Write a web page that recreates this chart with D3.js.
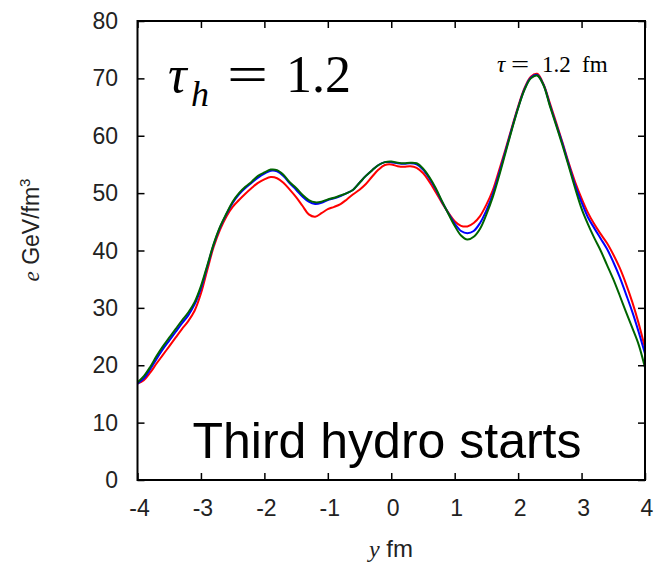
<!DOCTYPE html>
<html>
<head>
<meta charset="utf-8">
<script src="https://cdn.jsdelivr.net/npm/d3@7/dist/d3.min.js"></script>
<style>
html,body{margin:0;padding:0;background:#fff;}
svg{display:block;}
</style>
</head>
<body>
<svg id="chart" width="662" height="564"></svg>
<script>
// ---- data ----
const yPositions = [-4.0,-3.9,-3.8,-3.7,-3.6,-3.5,-3.4,-3.3,-3.2,-3.1,-3.0,-2.9,-2.8,-2.7,-2.6,-2.5,-2.4,-2.3,-2.2,-2.1,-2.0,-1.9,-1.8,-1.7,-1.6,-1.5,-1.4,-1.3,-1.2,-1.1,-1.0,-0.9,-0.8,-0.7,-0.6,-0.5,-0.4,-0.3,-0.2,-0.1,0.0,0.1,0.2,0.3,0.4,0.5,0.6,0.7,0.8,0.9,1.0,1.1,1.2,1.3,1.4,1.5,1.6,1.7,1.8,1.9,2.0,2.1,2.2,2.3,2.4,2.5,2.6,2.7,2.8,2.9,3.0,3.1,3.2,3.3,3.4,3.5,3.6,3.7,3.8,3.9,4.0];
const redValues = [16.8,17.4,18.7,20.3,21.8,23.3,24.8,26.3,27.7,29.5,32.5,36.6,40.6,43.6,45.9,47.6,48.8,49.9,50.9,51.8,52.4,52.8,52.6,51.8,50.6,49.3,47.8,46.3,45.9,46.5,47.2,47.6,48.1,48.9,49.8,50.6,51.6,52.9,54.1,54.9,55.0,54.7,54.6,54.7,54.4,53.5,52.0,50.2,48.3,46.6,45.1,44.3,44.2,44.8,46.0,48.0,50.5,54.0,57.6,61.4,65.1,68.3,70.3,70.8,69.0,65.7,62.3,58.8,55.2,51.9,49.1,46.6,44.6,42.9,41.3,39.3,37.0,34.2,31.0,27.3,23.0];
const blueValues = [16.8,17.7,19.3,21.1,22.8,24.3,25.8,27.3,28.7,30.6,33.4,37.2,41.0,44.0,46.3,48.3,49.8,50.9,51.8,52.7,53.4,53.9,53.8,53.0,51.7,50.6,49.4,48.5,48.1,48.3,48.8,49.1,49.5,50.0,50.6,51.8,53.0,54.0,54.9,55.4,55.4,55.2,55.1,55.2,55.0,54.1,52.6,50.7,48.5,46.5,44.7,43.4,43.0,43.4,44.8,47.0,49.8,53.4,57.3,61.2,64.9,68.1,70.1,70.6,68.9,65.4,62.0,58.6,54.9,51.3,48.4,45.8,43.9,42.1,40.3,38.0,35.4,32.4,29.3,25.8,22.0];
const greenValues = [17.0,18.1,19.7,21.6,23.3,24.8,26.3,27.8,29.2,31.0,33.8,37.4,41.1,44.1,46.4,48.5,50.0,51.1,52.0,53.0,53.6,54.1,54.0,53.2,51.9,50.9,49.7,48.8,48.4,48.5,48.9,49.2,49.6,50.0,50.6,51.8,53.0,54.0,54.9,55.4,55.5,55.3,55.2,55.3,55.2,54.3,52.8,50.9,48.6,46.4,44.3,42.6,41.9,42.4,43.8,46.3,49.3,53.0,57.0,61.0,64.8,68.0,70.0,70.5,68.8,65.2,61.8,58.3,54.6,50.8,47.3,44.6,42.2,40.0,37.5,35.0,32.2,29.3,26.5,23.6,19.6];
const xTicks = [-4,-3,-2,-1,0,1,2,3,4];
const yTicks = [0,10,20,30,40,50,60,70,80];
const seriesColors = ["#ff0000","#0000ff","#006400"];

// ---- layout ----
const svg = d3.select("#chart");
const L = 137.5, R = 645, T = 21, B = 480;
const x = d3.scaleLinear().domain([-4,4]).range([L,R]);
const y = d3.scaleLinear().domain([0,80]).range([B,T]);
const sans = "'Liberation Sans', Arial, Helvetica, sans-serif";
const serif = "'Liberation Serif', 'DejaVu Serif', serif";

svg.append("defs").append("clipPath").attr("id","clip")
  .append("rect").attr("x",L).attr("y",T).attr("width",R-L).attr("height",B-T);

// curves
const line = d3.line().x((d,i)=>x(yPositions[i])).y(d=>y(d)).curve(d3.curveCatmullRom.alpha(0.5));
const g = svg.append("g").attr("clip-path","url(#clip)");
[redValues, blueValues, greenValues].forEach((vals,k)=>{
  g.append("path").attr("d", line(vals)).attr("fill","none")
    .attr("stroke", seriesColors[k]).attr("stroke-width",2).attr("stroke-linejoin","round");
});

// axes with inward ticks (also mirrored top/right)
const tickLen = 7;
const axB = svg.append("g").attr("transform",`translate(0,${B})`)
  .call(d3.axisBottom(x).tickValues(xTicks).tickSize(-tickLen).tickFormat(""));
const axT = svg.append("g").attr("transform",`translate(0,${T})`)
  .call(d3.axisTop(x).tickValues(xTicks).tickSize(-tickLen).tickFormat(""));
const axL = svg.append("g").attr("transform",`translate(${L},0)`)
  .call(d3.axisLeft(y).tickValues(yTicks).tickSize(-tickLen).tickFormat(""));
const axR = svg.append("g").attr("transform",`translate(${R},0)`)
  .call(d3.axisRight(y).tickValues(yTicks).tickSize(-tickLen).tickFormat(""));
[axB,axT,axL,axR].forEach(a=>{
  a.select(".domain").remove();
  a.selectAll(".tick line").attr("stroke","#000").attr("stroke-width",1.5);
});

// frame
svg.append("rect").attr("x",L).attr("y",T).attr("width",R-L).attr("height",B-T)
  .attr("fill","none").attr("stroke","#000").attr("stroke-width",2);

// tick labels
svg.append("g").selectAll("text").data(xTicks).join("text")
  .attr("x",d=>x(d)+2).attr("y",516).attr("text-anchor","middle")
  .attr("font-family",sans).attr("font-size",23).attr("fill","#222")
  .text(d=>d);
svg.append("g").selectAll("text").data(yTicks).join("text")
  .attr("x",118).attr("y",d=>y(d)+8).attr("text-anchor","end")
  .attr("font-family",sans).attr("font-size",23).attr("fill","#222")
  .text(d=>d);

// axis titles
const xt = svg.append("text").attr("x",391).attr("y",557).attr("text-anchor","middle")
  .attr("font-size",24).attr("fill","#222");
xt.append("tspan").attr("font-family",serif).attr("font-style","italic").text("y");
xt.append("tspan").attr("font-family",sans).text(" fm");

const yt = svg.append("text").attr("transform","translate(39,230) rotate(-90)")
  .attr("text-anchor","middle").attr("font-size",23).attr("fill","#222");
yt.append("tspan").attr("font-family",serif).attr("font-style","italic").text("e");
yt.append("tspan").attr("font-family",sans).text(" GeV/fm");
yt.append("tspan").attr("font-family",sans).attr("font-size",15).attr("dy",-9).text("3");

// annotations
const t1 = svg.append("text").attr("y",92).attr("fill","#000").attr("font-family",serif);
t1.append("tspan").attr("x",168).attr("font-style","italic").attr("font-size",52).text("τ");
t1.append("tspan").attr("x",191).attr("dy",14).attr("font-style","italic").attr("font-size",36).text("h");
t1.append("tspan").attr("x",286).attr("dy",-14).attr("font-size",52).text("1.2");
svg.append("text").attr("transform","translate(227,92) scale(1.4,1)")
  .attr("font-family",serif).attr("font-size",52).attr("fill","#000").text("=");

const t2 = svg.append("text").attr("y",72).attr("fill","#000").attr("font-family",serif).attr("font-size",23);
t2.append("tspan").attr("x",497).attr("font-style","italic").text("τ");
t2.append("tspan").attr("x",542).text("1.2");
t2.append("tspan").attr("x",582).text("fm");
svg.append("text").attr("transform","translate(511,72) scale(1.4,1)")
  .attr("font-family",serif).attr("font-size",23).attr("fill","#000").text("=");

svg.append("text").attr("x",387).attr("y",458).attr("text-anchor","middle")
  .attr("font-family",sans).attr("font-size",50).attr("fill","#000")
  .text("Third hydro starts");
</script>
</body>
</html>
